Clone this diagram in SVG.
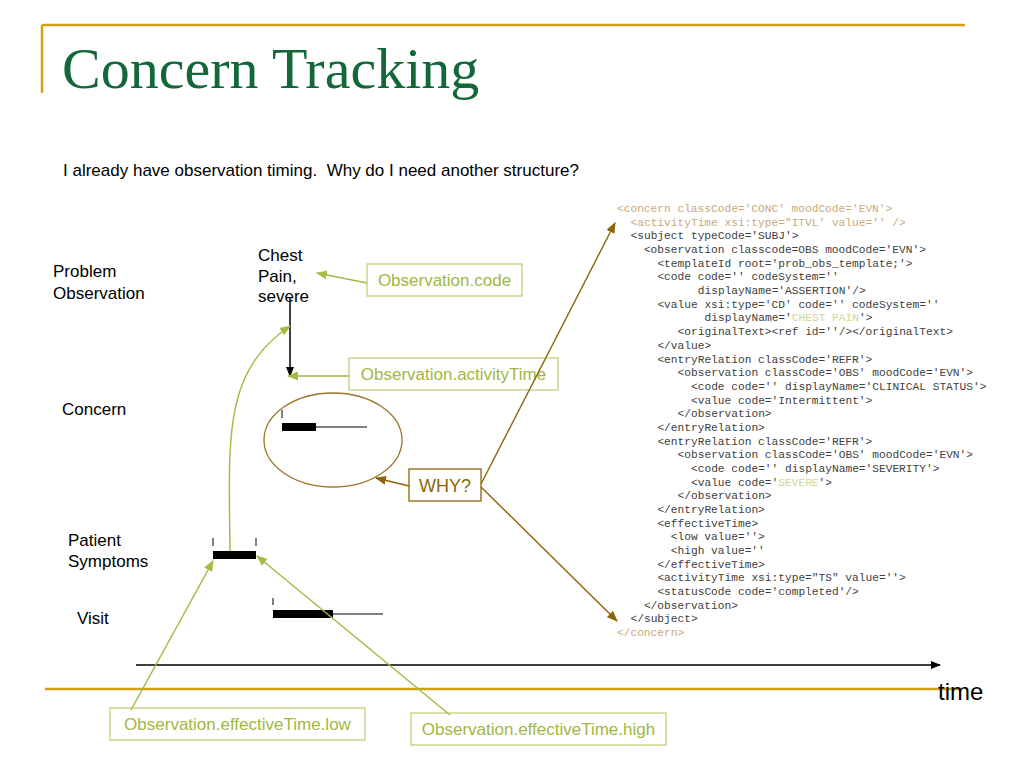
<svg xmlns="http://www.w3.org/2000/svg" width="1024" height="768" viewBox="0 0 1024 768">
<style>
.lbl{font-family:"Liberation Sans",Arial,sans-serif;font-size:17px;fill:#000}
.gtxt{font-family:"Liberation Sans",Arial,sans-serif;font-size:17px;fill:#9FB840}
.gbox{fill:#fff;stroke:#C2D07C;stroke-width:1.3}
.gline{fill:none;stroke:#A3BC44;stroke-width:1.5}
.bline{fill:none;stroke:#8B6508;stroke-width:1.4}
.code{font-family:"Liberation Mono","Courier New",monospace;font-size:11.2px;fill:#404040}
.tan{fill:#C8A87A}
.hl{fill:#CDD793}
.gold{stroke:#D4A017;stroke-width:2.5;fill:none}
</style>
<defs>
<marker id="ag" markerUnits="userSpaceOnUse" markerWidth="11" markerHeight="9" refX="10" refY="4.5" orient="auto"><path d="M0,0 L11,4.5 L0,9 z" fill="#A3BC44"/></marker>
<marker id="ab" markerUnits="userSpaceOnUse" markerWidth="11" markerHeight="9" refX="10" refY="4.5" orient="auto"><path d="M0,0 L11,4.5 L0,9 z" fill="#8B6508"/></marker>
<marker id="ak" markerUnits="userSpaceOnUse" markerWidth="10" markerHeight="8" refX="9" refY="4" orient="auto"><path d="M0,0 L10,4 L0,8 z" fill="#000"/></marker>
</defs>
<rect width="1024" height="768" fill="#fff"/>

<g id="frame">
<line class="gold" x1="42" y1="25" x2="965" y2="25"/>
<line class="gold" x1="42" y1="25" x2="42" y2="93"/>
<line class="gold" x1="45" y1="689" x2="962" y2="689"/>
<text x="62" y="88" font-family="'Liberation Serif','Times New Roman',serif" font-size="58" fill="#13683A">Concern Tracking</text>
<text x="63" y="176" class="lbl" xml:space="preserve">I already have observation timing.  Why do I need another structure?</text>
</g>

<g id="row-labels">
<text class="lbl" x="53" y="277">Problem</text>
<text class="lbl" x="53" y="299">Observation</text>
<text class="lbl" x="62" y="415">Concern</text>
<text class="lbl" x="68" y="546">Patient</text>
<text class="lbl" x="68" y="567">Symptoms</text>
<text class="lbl" x="77" y="624">Visit</text>
</g>

<g id="chest-pain">
<text class="lbl" x="258" y="261">Chest</text>
<text class="lbl" x="258" y="282">Pain,</text>
<text class="lbl" x="258" y="302">severe</text>
</g>

<g id="box-code">
<rect class="gbox" x="367" y="264" width="155" height="32"/>
<text class="gtxt" x="444.5" y="286" text-anchor="middle">Observation.code</text>
</g>

<g id="box-activity">
<rect class="gbox" x="349" y="358" width="209" height="32"/>
<text class="gtxt" x="453.5" y="380" text-anchor="middle">Observation.activityTime</text>
</g>

<g id="concern-ellipse">
<ellipse cx="333" cy="440" rx="69" ry="47" fill="none" stroke="#9A7428" stroke-width="1.3"/>
<line x1="282" y1="410" x2="282" y2="418" stroke="#000" stroke-width="1"/>
<rect x="282" y="423" width="34" height="8" fill="#000"/>
<line x1="316" y1="427" x2="367" y2="427" stroke="#000" stroke-width="1"/>
</g>

<g id="box-why">
<rect x="409" y="469" width="72" height="32" fill="#fff" stroke="#8B6508" stroke-width="1.3"/>
<text x="445" y="492" text-anchor="middle" font-family="'Liberation Sans',Arial,sans-serif" font-size="18" fill="#8B6508">WHY?</text>
</g>

<g id="symptoms-bar">
<line x1="213" y1="538" x2="213" y2="546" stroke="#000" stroke-width="1"/>
<line x1="256" y1="538" x2="256" y2="546" stroke="#000" stroke-width="1"/>
<rect x="213" y="551" width="43" height="8" fill="#000"/>
</g>

<g id="visit-bar">
<line x1="273" y1="598" x2="273" y2="605" stroke="#000" stroke-width="1"/>
<rect x="273" y="610" width="60" height="8" fill="#000"/>
<line x1="333" y1="614" x2="383" y2="614" stroke="#000" stroke-width="1"/>
</g>

<g id="box-low">
<rect class="gbox" x="110" y="708" width="255" height="32"/>
<text class="gtxt" x="237.5" y="730" text-anchor="middle">Observation.effectiveTime.low</text>
</g>

<g id="box-high">
<rect class="gbox" x="411" y="713" width="255" height="32"/>
<text class="gtxt" x="538.5" y="735" text-anchor="middle">Observation.effectiveTime.high</text>
</g>

<g id="time-axis">
<line x1="136" y1="665" x2="940" y2="665" stroke="#000" stroke-width="1.5" marker-end="url(#ak)"/>
<text x="938" y="700" font-family="'Liberation Sans',Arial,sans-serif" font-size="24" fill="#000">time</text>
</g>

<g id="code-block" class="code">
<text class="tan" x="617" y="212">&lt;concern classCode='CONC' moodCode='EVN'&gt;</text>
<text class="tan" x="630.5" y="225.7">&lt;activityTime xsi:type="ITVL' value='' /&gt;</text>
<text x="630.5" y="239.4">&lt;subject typeCode='SUBJ'&gt;</text>
<text x="643.9" y="253">&lt;observation classcode=OBS moodCode='EVN'&gt;</text>
<text x="657.4" y="266.7">&lt;templateId root='prob_obs_template;'&gt;</text>
<text x="657.4" y="280.4">&lt;code code='' codeSystem=''</text>
<text x="697.8" y="294.1">displayName='ASSERTION'/&gt;</text>
<text x="657.4" y="307.8">&lt;value xsi:type='CD' code='' codeSystem=''</text>
<text x="704.5" y="321.4">displayName='<tspan class="hl">CHEST PAIN</tspan>'&gt;</text>
<text x="677.6" y="335.1">&lt;originalText&gt;&lt;ref id=''/&gt;&lt;/originalText&gt;</text>
<text x="657.4" y="348.8">&lt;/value&gt;</text>
<text x="657.4" y="362.5">&lt;entryRelation classCode='REFR'&gt;</text>
<text x="677.6" y="376.2">&lt;observation classCode='OBS' moodCode='EVN'&gt;</text>
<text x="691" y="389.8">&lt;code code='' displayName='CLINICAL STATUS'&gt;</text>
<text x="691" y="403.5">&lt;value code='Intermittent'&gt;</text>
<text x="677.6" y="417.2">&lt;/observation&gt;</text>
<text x="657.4" y="430.9">&lt;/entryRelation&gt;</text>
<text x="657.4" y="444.6">&lt;entryRelation classCode='REFR'&gt;</text>
<text x="677.6" y="458.2">&lt;observation classCode='OBS' moodCode='EVN'&gt;</text>
<text x="691" y="471.9">&lt;code code='' displayName='SEVERITY'&gt;</text>
<text x="691" y="485.6">&lt;value code='<tspan class="hl">SEVERE</tspan>'&gt;</text>
<text x="677.6" y="499.3">&lt;/observation&gt;</text>
<text x="657.4" y="513">&lt;/entryRelation&gt;</text>
<text x="657.4" y="526.6">&lt;effectiveTime&gt;</text>
<text x="670.8" y="540.3">&lt;low value=''&gt;</text>
<text x="670.8" y="554">&lt;high value=''</text>
<text x="657.4" y="567.7">&lt;/effectiveTime&gt;</text>
<text x="657.4" y="581.4">&lt;activityTime xsi:type="TS" value=''&gt;</text>
<text x="657.4" y="595">&lt;statusCode code='completed'/&gt;</text>
<text x="643.9" y="608.7">&lt;/observation&gt;</text>
<text x="630.5" y="622.4">&lt;/subject&gt;</text>
<text class="tan" x="617" y="636.1">&lt;/concern&gt;</text>
</g>

<g id="connectors">
<line x1="290" y1="298" x2="290" y2="376" stroke="#000" stroke-width="1.5" marker-end="url(#ak)"/>
<line class="gline" x1="367" y1="283" x2="317" y2="273" marker-end="url(#ag)"/>
<line class="gline" x1="349" y1="376" x2="288" y2="376" marker-end="url(#ag)"/>
<path class="gline" d="M230,551 C229,440 222,372 290,326" marker-end="url(#ag)"/>
<line class="gline" x1="131" y1="710" x2="213" y2="561" marker-end="url(#ag)"/>
<line class="gline" x1="450" y1="715" x2="257" y2="556" marker-end="url(#ag)"/>
<line class="bline" x1="409" y1="486" x2="376" y2="478" marker-end="url(#ab)"/>
<line class="bline" x1="481" y1="484" x2="615" y2="223" marker-end="url(#ab)"/>
<line class="bline" x1="481" y1="487" x2="617" y2="621" marker-end="url(#ab)"/>
</g>
</svg>
